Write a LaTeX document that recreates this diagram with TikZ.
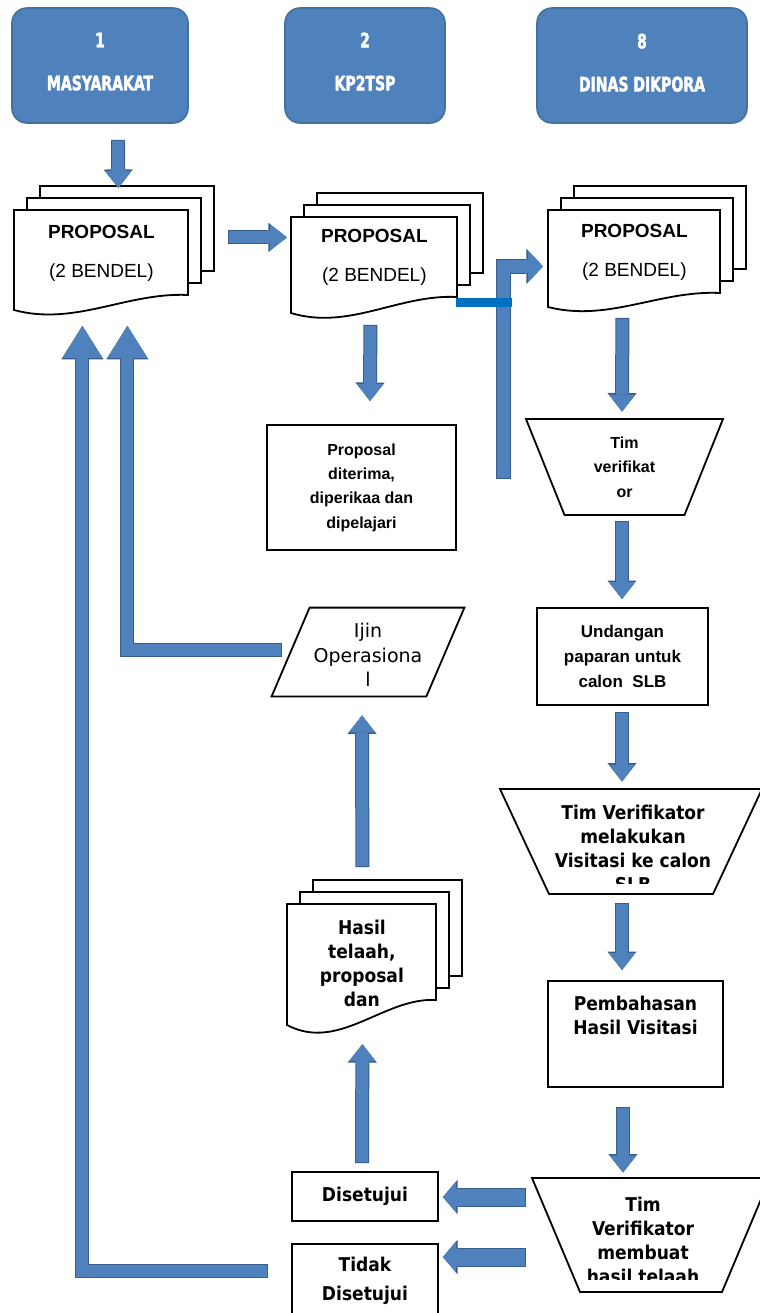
\documentclass[tikz,border=0pt]{standalone}
\usepackage{fontspec}
\setmainfont{Liberation Sans}
\newfontfamily\headfont[FakeStretch=0.78, FakeBold=2]{DejaVu Sans Condensed}
\newfontfamily\condfont{DejaVu Sans Condensed}
\newfontfamily\verafont{DejaVu Sans}
\usetikzlibrary{arrows.meta,calc}

\definecolor{headblue}{HTML}{4F81BD}
\definecolor{headedge}{HTML}{41719C}
\definecolor{flowblue}{HTML}{4F81BD}
\definecolor{flowedge}{HTML}{385D8A}
\definecolor{linkblue}{HTML}{0070C0}

\tikzset{
  head/.style={rectangle, rounded corners=7.5pt, draw=headedge, fill=headblue, line width=0.8pt,
    text=white, align=center, font=\headfont\bfseries\fontsize{10}{10}\selectfont},
  box/.style={draw, line width=0.9pt, inner sep=0pt},
  sheet/.style={draw, fill=white, line width=0.9pt},
  doc/.style={font=\fontsize{9.5}{19.5}\selectfont, align=center},
  smallb/.style={font=\bfseries\fontsize{8}{12.2}\selectfont, align=center},
  undang/.style={font=\bfseries\fontsize{8.5}{12.5}\selectfont, align=center},
  vera/.style={font=\verafont\fontsize{9.5}{12.25}\selectfont, align=center},
  cond/.style={font=\condfont\bfseries\fontsize{9.5}{12}\selectfont, align=center},
  condwide/.style={font=\condfont\bfseries\fontsize{9.5}{14.5}\selectfont, align=center},
  flow/.style={draw=flowblue, line width=6pt, -{Triangle[width=13pt,length=8.5pt,line width=0pt]},
    preaction={draw=flowedge, line width=7pt, shorten <=-0.5pt,
      -{Triangle[width=14.6pt,length=9.3pt,line width=0pt]}}},
  elbowflow/.style={draw=flowblue, line width=6.5pt, -{Triangle[width=16pt,length=7.5pt,line width=0pt]},
    preaction={draw=flowedge, line width=7.5pt, shorten <=-0.5pt,
      -{Triangle[width=17.6pt,length=8.3pt,line width=0pt]}}},
  wideflow/.style={draw=flowblue, line width=8.5pt, -{Triangle[width=15.5pt,length=6.5pt,line width=0pt]},
    preaction={draw=flowedge, line width=9.5pt, shorten <=-0.5pt,
      -{Triangle[width=17.1pt,length=7.3pt,line width=0pt]}}},
  bigflow/.style={draw=flowblue, line width=6pt, -{Triangle[width=19.5pt,length=16pt,line width=0pt]},
    preaction={draw=flowedge, line width=7pt, shorten <=-0.5pt,
      -{Triangle[width=21.1pt,length=16.8pt,line width=0pt]}}},
  link/.style={draw=linkblue, line width=4.5pt},
}

% three stacked sheets, the front one with a wavy foot
\newcommand{\pages}[8][doc]{%
  \draw[sheet] (#3+26,#4-24) rectangle (#3+26+#5,#4-24+#6);
  \draw[sheet] (#3+13,#4-12) rectangle (#3+13+#5,#4-12+#6);
  \draw[sheet] (#3,#4) -- (#3+#5,#4) -- (#3+#5,#4+#6)
    .. controls (#3+0.65*#5,#4+#6-3) and (#3+0.35*#5,#4+#6+2.1*#7) .. (#3,#4+#6+#7) -- cycle;
  \node[#1, inner sep=0pt, minimum width=#5*0.5pt, minimum height=#6*0.5pt, anchor=north west] (#2) at (#3,#4) {#8}}

% upside-down trapezium
\newcommand{\funnel}[6]{%
  \draw[box] (#2-#4/2,#3) -- (#2+#4/2,#3) -- (#2+#5/2,#3+#6) -- (#2-#5/2,#3+#6) -- cycle;
  \node[inner sep=0pt, minimum width=#4*0.5pt, minimum height=#6*0.5pt] (#1) at (#2,#3+#6/2) {};}

\begin{document}
\begin{tikzpicture}[x=0.5pt, y=-0.5pt]
  \fill[white] (0,0) rectangle (760,1313);
  \useasboundingbox (0,0) rectangle (760,1313);

  % columns
  \node[head, minimum width=88pt, minimum height=57.5pt] (h1) at (100,65.5) {1\\[11.5pt]MASYARAKAT\rule[-4pt]{0pt}{0pt}};
  \node[head, minimum width=80pt, minimum height=57.5pt] (h2) at (365,65.5) {2\\[11.5pt]KP2TSP\rule[-4pt]{0pt}{0pt}};
  \node[head, minimum width=105pt, minimum height=57.5pt] (h3) at (642,65.5) {8\\[11.5pt]DINAS DIKPORA\rule[-3pt]{0pt}{0pt}};

  \pages{d1}{14}{210}{174}{85}{15}{\textbf{PROPOSAL}\\(2 BENDEL)};
  \pages{d2}{291}{217}{166}{80}{16}{\textbf{PROPOSAL}\\(2 BENDEL)};
  \pages{d3}{548}{210}{172}{83}{14}{\textbf{PROPOSAL}\\(2 BENDEL)};

  \node[box, smallb, minimum width=94.5pt, minimum height=62.5pt] (p1) at (361.5,487.5)
    {Proposal\\diterima,\\diperikaa dan\\dipelajari};

  \funnel{v1}{624.5}{419}{197}{120}{96}
  \node[smallb] (v1t) at (v1) {Tim\\verifikat\\or};

  \node[box, undang, minimum width=85.5pt, minimum height=48.5pt] (u1) at (622.5,656.5)
    {Undangan\\paparan untuk\\calon\ \ SLB};

  \node[vera, inner sep=0pt, minimum width=96pt, minimum height=44pt] (ij) at (368,655) {Ijin\\Operasiona\\l};
  \draw[box] ([xshift=19pt,yshift=1.5pt]ij.north west) -- ([yshift=1.5pt]ij.north east)
    -- ([xshift=-19pt,yshift=1.5pt]ij.south east) -- ([yshift=1.5pt]ij.south west) -- cycle;

  \funnel{v2}{631}{789}{262}{164}{105}
  \begin{scope}
    \clip (490,785) rectangle (770,883);
    \node[cond] (v2t) at (633,848) {Tim Verifikator\\melakukan\\Visitasi ke calon\\SLB};
  \end{scope}

  \pages[cond]{d4}{287}{904}{149}{96}{25}{\rule{0pt}{15pt}Hasil\\telaah,\\proposal\\dan};

  \node[box, cond, minimum width=87.5pt, minimum height=53pt] (b1) at (635.5,1034)
    {\rule{0pt}{12.2pt}Pembahasan\\Hasil Visitasi\\\mbox{}\\\mbox{}};

  \funnel{v3}{651}{1178}{238}{142}{114}
  \begin{scope}
    \clip (520,1175) rectangle (770,1279);
    \node[cond] (v3t) at (643,1240) {Tim\\Verifikator\\membuat\\hasil telaah};
  \end{scope}

  \node[box, cond, minimum width=73pt, minimum height=24.5pt] (ds) at (365,1196.5) {Disetujui};
  \node[box, condwide, minimum width=73pt, minimum height=37pt] (td) at (365,1281) {Tidak\\Disetujui};

  % arrows
  \draw[flow] ($(h1.south)+(18,17)$) -- ($(d1.north)+(17,-22)$);
  \draw[flow] ($(d1.east)+(40,-15.5)$) -- ($(d2.west)+(-4,-20)$);
  \draw[flow] ($(d2.south)+(-4,28)$) -- ($(p1.north)+(8.5,-23)$);
  \draw[elbowflow] ($(p1.east)+(47,-9.5)$) |- ($(d3.west)+(-5,14.5)$);
  \draw[link] ($(d2.south east)+(-2,5)$) -- ++(56,0);
  \draw[flow] ($(d3.south)+(-12,25)$) -- ($(v1.north)+(-2.5,-7)$);
  \draw[flow] ($(v1.south)+(-2.5,7)$) -- ($(u1.north)+(-0.5,-8)$);
  \draw[flow] ($(u1.south)+(-0.5,7)$) -- ($(v2.north)+(-9,-7)$);
  \draw[flow] ($(v2.south)+(-9,10)$) -- ($(b1.north)+(-13.5,-10)$);
  \draw[flow] ($(b1.south)+(-12.5,20)$) -- ($(v3.north)+(-28,-5)$);
  \draw[wideflow] ($(v3.west)+(-7,-38)$) -- ($(ds.east)+(4,0.5)$);
  \draw[wideflow] ($(v3.west)+(-7,22)$) -- ($(td.east)+(4,-24)$);
  \draw[flow] ($(ds.north)+(-3,-9)$) -- ($(d4.south)+(0.5,37)$);
  \draw[flow] ($(d4.north)+(0.5,-38)$) -- ($(ij.south)+(-6,16)$);
  \draw[bigflow] ($(ij.west)+(9,-5)$) -| ($(d1.south)+(26,30)$);
  \draw[bigflow] ($(td.west)+(-24,-10)$) -| ($(d1.south)+(-19,30)$);
\end{tikzpicture}
\end{document}
